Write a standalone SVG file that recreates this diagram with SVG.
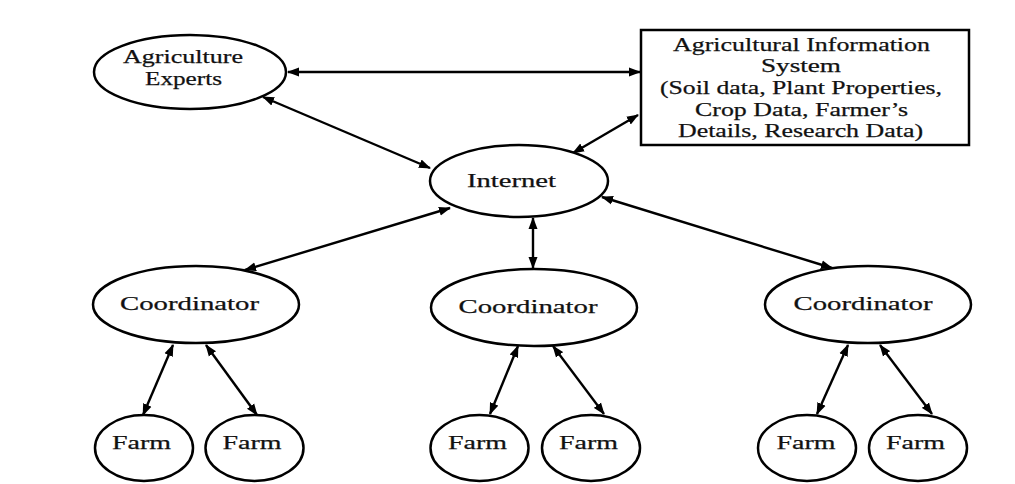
<svg xmlns="http://www.w3.org/2000/svg" width="1015" height="484" viewBox="0 0 1015 484">
<style>
.n{fill:#fff;stroke:#000;stroke-width:2.5}
.t{font-family:"Liberation Serif","Times New Roman",serif;font-size:19.5px;fill:#111;stroke:#111;stroke-width:0.25;text-anchor:middle}
.c{stroke:#000;stroke-width:2.4;fill:none;marker-start:url(#ah);marker-end:url(#ah)}
</style>
<defs>
<marker id="ah" markerUnits="userSpaceOnUse" markerWidth="12" markerHeight="10" refX="11" refY="5" orient="auto-start-reverse" viewBox="0 0 12 10">
<path d="M0,0.5 L12,5 L0,9.5 z" fill="#000"/>
</marker>
</defs>
<rect width="1015" height="484" fill="#fff"/>
<g id="connectors">
<line class="c" x1="288" y1="72" x2="640" y2="72"/>
<line class="c" x1="263" y1="97" x2="430" y2="168"/>
<line class="c" x1="638" y1="115" x2="573" y2="153"/>
<line class="c" x1="450" y1="208" x2="245" y2="270"/>
<line class="c" x1="533" y1="218" x2="533" y2="268"/>
<line class="c" x1="602" y1="197" x2="832" y2="268"/>
<line class="c" x1="173" y1="345" x2="143" y2="415"/>
<line class="c" x1="206" y1="345" x2="257" y2="415"/>
<line class="c" x1="518" y1="346" x2="490" y2="414"/>
<line class="c" x1="553" y1="346" x2="604" y2="414"/>
<line class="c" x1="848" y1="345" x2="817" y2="414"/>
<line class="c" x1="880" y1="345" x2="932" y2="414"/>
</g>
<g id="agri-experts">
<ellipse class="n" cx="190" cy="72" rx="96" ry="37"/>
<text class="t" x="183" y="63" textLength="120" lengthAdjust="spacingAndGlyphs">Agriculture</text>
<text class="t" x="183.5" y="85" textLength="77" lengthAdjust="spacingAndGlyphs">Experts</text>
</g>
<g id="ais">
<rect class="n" x="641" y="30" width="328" height="115"/>
<text class="t" x="801.5" y="51" textLength="257" lengthAdjust="spacingAndGlyphs">Agricultural Information</text>
<text class="t" x="801" y="72" textLength="80" lengthAdjust="spacingAndGlyphs">System</text>
<text class="t" x="801" y="94" textLength="282" lengthAdjust="spacingAndGlyphs">(Soil data, Plant Properties,</text>
<text class="t" x="801.5" y="116" textLength="213" lengthAdjust="spacingAndGlyphs">Crop Data, Farmer’s</text>
<text class="t" x="800.5" y="137" textLength="245" lengthAdjust="spacingAndGlyphs">Details, Research Data)</text>
</g>
<g id="internet">
<ellipse class="n" cx="519" cy="181" rx="89" ry="36"/>
<text class="t" x="511.5" y="187" textLength="89" lengthAdjust="spacingAndGlyphs">Internet</text>
</g>
<g id="coord1">
<ellipse class="n" cx="196" cy="304.5" rx="103" ry="38.5"/>
<text class="t" x="189.5" y="310" textLength="139" lengthAdjust="spacingAndGlyphs">Coordinator</text>
</g>
<g id="coord2">
<ellipse class="n" cx="534" cy="307.5" rx="103" ry="38.5"/>
<text class="t" x="528" y="313" textLength="139" lengthAdjust="spacingAndGlyphs">Coordinator</text>
</g>
<g id="coord3">
<ellipse class="n" cx="868" cy="304.5" rx="103" ry="38.5"/>
<text class="t" x="863" y="310" textLength="139" lengthAdjust="spacingAndGlyphs">Coordinator</text>
</g>
<g id="farm1">
<ellipse class="n" cx="144" cy="448" rx="49" ry="33"/>
<text class="t" x="141.5" y="449" textLength="59" lengthAdjust="spacingAndGlyphs">Farm</text>
</g>
<g id="farm2">
<ellipse class="n" cx="254.5" cy="448" rx="49" ry="33"/>
<text class="t" x="252" y="449" textLength="59" lengthAdjust="spacingAndGlyphs">Farm</text>
</g>
<g id="farm3">
<ellipse class="n" cx="479.5" cy="448" rx="49" ry="33"/>
<text class="t" x="477.5" y="449" textLength="59" lengthAdjust="spacingAndGlyphs">Farm</text>
</g>
<g id="farm4">
<ellipse class="n" cx="591" cy="448" rx="49" ry="33"/>
<text class="t" x="588.5" y="449" textLength="59" lengthAdjust="spacingAndGlyphs">Farm</text>
</g>
<g id="farm5">
<ellipse class="n" cx="807" cy="448" rx="49" ry="33"/>
<text class="t" x="806" y="449" textLength="59" lengthAdjust="spacingAndGlyphs">Farm</text>
</g>
<g id="farm6">
<ellipse class="n" cx="918" cy="448" rx="49" ry="33"/>
<text class="t" x="915.5" y="449" textLength="59" lengthAdjust="spacingAndGlyphs">Farm</text>
</g>
</svg>
